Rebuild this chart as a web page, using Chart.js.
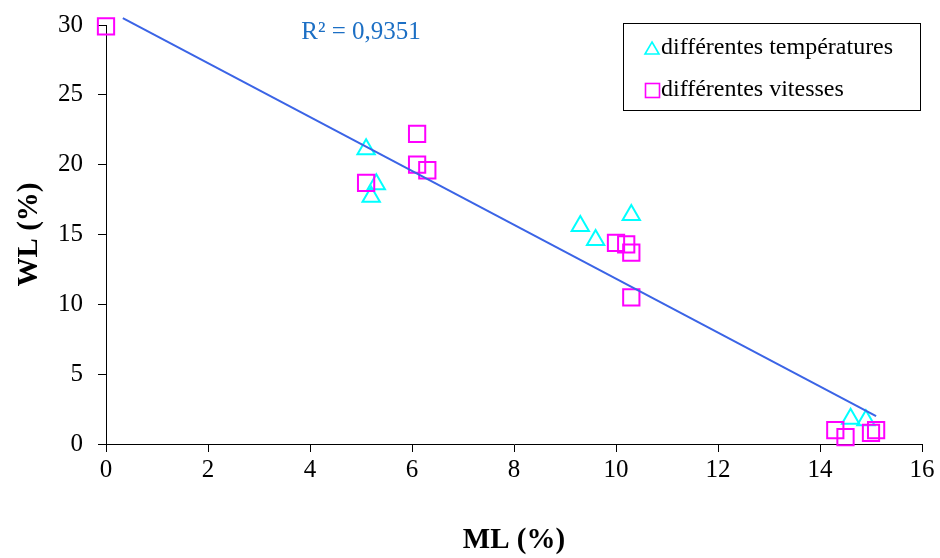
<!DOCTYPE html>
<html lang="fr">
<head>
    <meta charset="UTF-8">
    <title>WL vs ML</title>
    <script src="https://cdn.jsdelivr.net/npm/chart.js"></script>
    <style>
        body { margin: 0; background: #fff; }
        .chart-container { width: 940px; height: 558px; }
    </style>
</head>
<body>

<div class="chart-container">
    <canvas id="wlChart"></canvas>
</div>

<script>
    // Data
    const tempML = [5.1, 5.3, 5.2, 9.3, 9.6, 10.3, 14.6, 14.9];
    const tempWL = [21.1, 18.6, 17.7, 15.6, 14.6, 16.4, 1.8, 1.7];

    const speedML = [0, 6.1, 6.1, 6.3, 5.1, 10.0, 10.2, 10.3, 10.3, 14.3, 14.5, 15.0, 15.1];
    const speedWL = [29.9, 22.2, 20.0, 19.6, 18.7, 14.4, 14.3, 13.7, 10.5, 1.0, 0.5, 0.8, 1.0];

    // linear trend line ends
    const trendML = [0.33, 15.1];
    const trendWL = [30.5, 2.0];

    const xTicks = [0, 2, 4, 6, 8, 10, 12, 14, 16];
    const yTicks = [0, 5, 10, 15, 20, 25, 30];

    const rSquared = 'R² = 0,9351';
    const legendLabels = ['différentes températures', 'différentes vitesses'];

    const serif = '"Liberation Serif", "Times New Roman", serif';
    const cyan = '#00ffff';
    const magenta = '#ff00ff';
    const lineBlue = '#3b64e6';

    function toPoints(xs, ys) {
        return xs.map((x, i) => ({ x: x, y: ys[i] }));
    }

    // legend box + R² label drawn on the canvas
    const extrasPlugin = {
        id: 'extras',
        afterDraw(chart) {
            const ctx = chart.ctx;
            const xs = chart.scales.x, ys = chart.scales.y;
            ctx.save();

            // R² label
            ctx.font = '25px ' + serif;
            ctx.fillStyle = '#1c6fc4';
            ctx.textAlign = 'center';
            ctx.textBaseline = 'middle';
            ctx.fillText(rSquared, xs.getPixelForValue(5.0), ys.getPixelForValue(29.5));

            // legend
            const bx = 623.5, by = 23.5, bw = 297, bh = 87;
            ctx.fillStyle = '#fff';
            ctx.fillRect(bx, by, bw, bh);
            ctx.strokeStyle = '#000';
            ctx.lineWidth = 1;
            ctx.strokeRect(bx, by, bw, bh);

            ctx.lineWidth = 1.6;
            // triangle
            ctx.strokeStyle = cyan;
            ctx.beginPath();
            ctx.moveTo(652, 42);
            ctx.lineTo(659, 54);
            ctx.lineTo(645, 54);
            ctx.closePath();
            ctx.stroke();
            // square
            ctx.strokeStyle = magenta;
            ctx.strokeRect(645.5, 83.5, 14, 14);

            ctx.fillStyle = '#000';
            ctx.textAlign = 'left';
            ctx.font = '24px ' + serif;
            ctx.fillText(legendLabels[0], 661, 48);
            ctx.fillText(legendLabels[1], 661, 90);
            ctx.restore();
        }
    };

    new Chart(document.getElementById('wlChart').getContext('2d'), {
        type: 'scatter',
        data: {
            datasets: [
                {
                    label: 'trend',
                    type: 'line',
                    data: toPoints(trendML, trendWL),
                    borderColor: lineBlue,
                    borderWidth: 2,
                    pointRadius: 0,
                    fill: false,
                    clip: false
                },
                {
                    label: legendLabels[1],
                    data: toPoints(speedML, speedWL),
                    pointStyle: 'rect',
                    pointRadius: 11.5,
                    pointHoverRadius: 11.5,
                    borderColor: magenta,
                    backgroundColor: 'rgba(0,0,0,0)',
                    pointBorderWidth: 2,
                    clip: false
                },
                {
                    label: legendLabels[0],
                    data: toPoints(tempML, tempWL),
                    pointStyle: 'triangle',
                    pointRadius: 10,
                    pointHoverRadius: 10,
                    borderColor: cyan,
                    backgroundColor: 'rgba(0,0,0,0)',
                    pointBorderWidth: 2,
                    clip: false
                }
            ]
        },
        options: {
            responsive: true,
            maintainAspectRatio: false,
            animation: false,
            layout: { padding: { left: 0, right: 18, top: 25, bottom: 0 } },
            plugins: {
                legend: { display: false },
                tooltip: { enabled: false }
            },
            scales: {
                x: {
                    type: 'linear',
                    min: 0,
                    max: 16,
                    afterFit: s => { s.height = 114; s.paddingLeft = 0; s.paddingRight = 0; },
                    afterBuildTicks: s => { s.ticks = xTicks.map(v => ({ value: v })); },
                    border: { color: '#000', width: 1 },
                    grid: { drawOnChartArea: false, drawTicks: true, tickLength: 8, color: '#000' },
                    ticks: { color: '#000', padding: 3, font: { family: serif, size: 25 } },
                    title: {
                        display: true,
                        text: 'ML (%)',
                        color: '#000',
                        padding: { top: 0, bottom: 0 },
                        font: { family: serif, size: 29, weight: 'bold' }
                    }
                },
                y: {
                    type: 'linear',
                    min: 0,
                    max: 30,
                    afterFit: s => { s.width = 106; s.paddingTop = 0; s.paddingBottom = 0; },
                    afterBuildTicks: s => { s.ticks = yTicks.map(v => ({ value: v })); },
                    border: { color: '#000', width: 1 },
                    grid: { drawOnChartArea: false, drawTicks: true, tickLength: 8, color: '#000' },
                    ticks: { color: '#000', padding: 15, font: { family: serif, size: 25 } },
                    title: {
                        display: true,
                        text: 'WL (%)',
                        color: '#000',
                        padding: { top: 12, bottom: 0 },
                        font: { family: serif, size: 29, weight: 'bold' }
                    }
                }
            }
        },
        plugins: [extrasPlugin]
    });
</script>
</body>
</html>
